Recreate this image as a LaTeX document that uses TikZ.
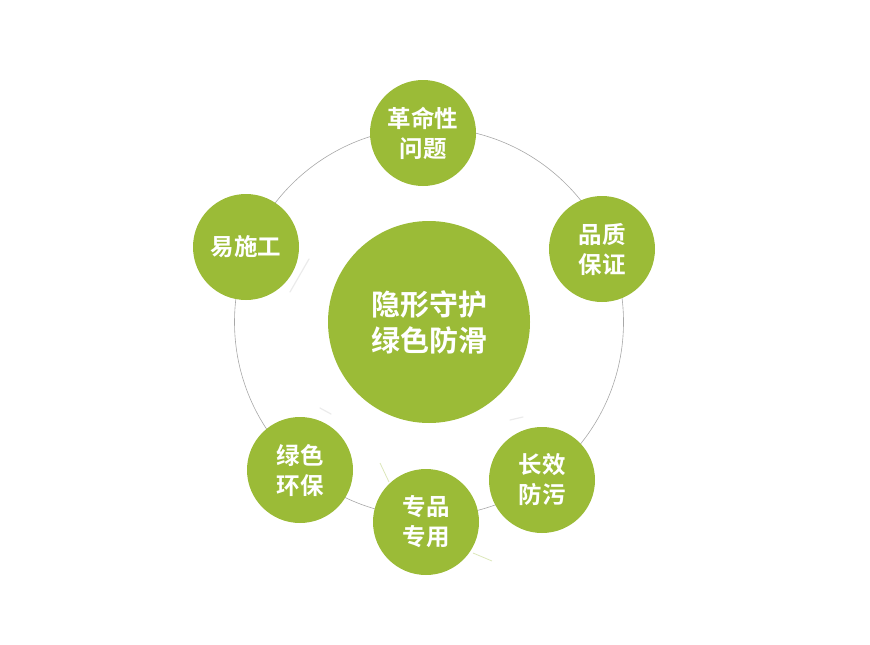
\documentclass[tikz,border=0pt]{standalone}
\usepackage{fontspec}
\newfontfamily\cjk{Noto Sans CJK SC Bold}
\definecolor{leaf}{HTML}{9BBB37}
\definecolor{ringgray}{HTML}{A8A8A8}
\definecolor{palegreen}{HTML}{DCE7BA}
\definecolor{shade}{HTML}{EBEBEB}
\begin{document}
\begin{tikzpicture}[x=1pt,y=-1pt,
  sat/.style={circle,fill=leaf,minimum size=106pt,inner sep=0pt,text=white,
    font=\cjk\fontsize{23.5}{30}\selectfont,align=center},
  hub/.style={circle,fill=leaf,minimum size=202pt,inner sep=0pt,text=white,
    font=\cjk\fontsize{29}{36}\selectfont,align=center},
  ring/.style={draw=ringgray,line width=0.6pt},
  faint/.style={draw=palegreen,line width=0.8pt},
  ghost/.style={draw=shade,line width=1.2pt,line cap=round}]
\useasboundingbox (0,0) rectangle (870,645);
\coordinate (o) at (429,322);
\draw[ring] (o) circle[radius=194.5];
\draw[faint] (380,463) -- (389,482);
\draw[faint] (473,553) -- (492,561);
\draw[ghost] (309,259) -- (290,292);
\draw[ghost] (510,420) -- (523,417);
\draw[ghost] (320,408) -- (331,414);
\node[hub] (c) at (o) {隐形守护\\绿色防滑};
\node[sat] (s1) at (423,133) {革命性\\问题};
\node[sat] (s2) at (602,249) {品质\\保证};
\node[sat] (s3) at (542,480) {长效\\防污};
\node[sat] (s4) at (426,522) {专品\\专用};
\node[sat] (s5) at (300,470) {绿色\\环保};
\node[sat] (s6) at (246,247) {易施工};
\end{tikzpicture}
\end{document}
